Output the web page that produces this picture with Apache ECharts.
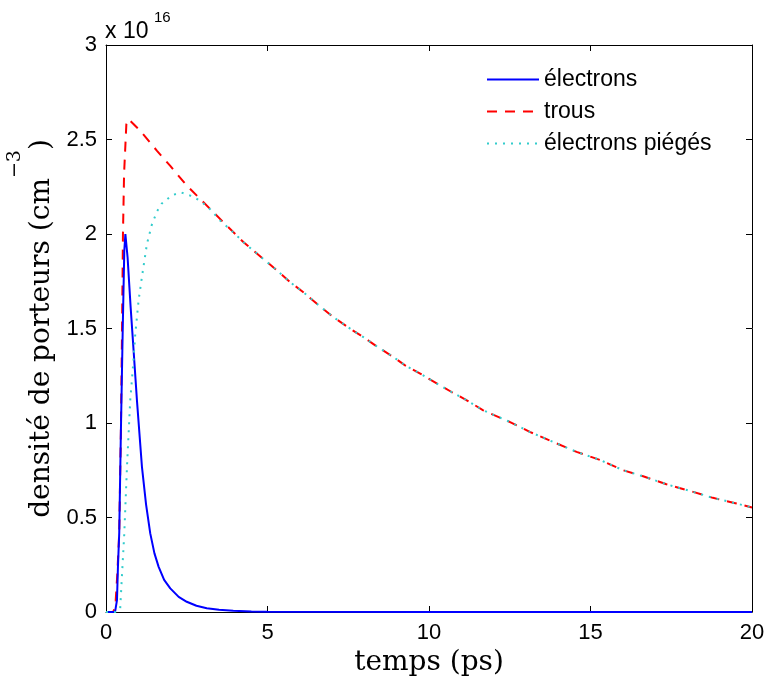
<!DOCTYPE html>
<html>
<head>
<meta charset="utf-8">
<script src="https://cdn.jsdelivr.net/npm/echarts@6/dist/echarts.min.js"></script>
<style>
  html, body { margin: 0; padding: 0; background: #fff; }
  #chart { width: 768px; height: 681px; }
</style>
</head>
<body>
<div id="chart"></div>
<script>
// Values are in units of 1e16 cm^-3, time in ps
const seriesNames = ['électrons', 'trous', 'électrons piégés'];
const xTicks = [0, 5, 10, 15, 20];
const yTicks = [0, 0.5, 1, 1.5, 2, 2.5, 3];

const electronsT = [0, 0.28, 0.31, 0.34, 0.37, 0.41, 0.46, 0.515, 0.566, 0.60, 0.668, 0.76, 0.854, 0.958, 1.113, 1.24, 1.37, 1.5, 1.63, 1.8, 1.99, 2.25, 2.5, 2.8, 3.12, 3.5, 3.94, 4.5, 5, 10, 20];
const electronsN = [0, 0, 0.01, 0.063, 0.24, 0.42, 0.945, 1.47, 1.91, 2.0, 1.877, 1.62, 1.384, 1.12, 0.768, 0.57, 0.416, 0.31, 0.239, 0.17, 0.125, 0.08, 0.054, 0.033, 0.02, 0.012, 0.007, 0.003, 0.001, 0, 0];

const trousT = [0, 0.22, 0.27, 0.30, 0.35, 0.41, 0.46, 0.495, 0.525, 0.56, 0.63, 0.70, 1.06, 1.58, 1.99, 2.5, 2.92, 3.38, 3.74, 4.26, 4.87, 5.24, 5.70, 6.11, 6.53, 7.04, 7.56, 7.97, 8.43, 8.90, 9.26, 9.77, 10.34, 10.70, 11.17, 11.68, 12.51, 13.12, 13.84, 14.57, 15.29, 16.01, 16.63, 17.35, 18.07, 18.79, 19.52, 20];
const trousN = [0, 0, 0.02, 0.06, 0.2, 0.42, 0.945, 1.47, 2.0, 2.32, 2.58, 2.608, 2.546, 2.44, 2.36, 2.256, 2.185, 2.106, 2.044, 1.956, 1.868, 1.815, 1.745, 1.692, 1.631, 1.56, 1.499, 1.454, 1.40, 1.349, 1.305, 1.257, 1.199, 1.164, 1.12, 1.067, 1.005, 0.953, 0.90, 0.847, 0.805, 0.75, 0.718, 0.676, 0.641, 0.604, 0.574, 0.553];

const piegesT = [0, 0.3, 0.38, 0.44, 0.49, 0.566, 0.65, 0.75, 0.835, 0.906, 1.01, 1.11, 1.27, 1.42, 1.58, 1.72, 2.04, 2.32, 2.61, 2.92, 3.23, 3.54, 4.0, 4.26, 4.87, 5.24, 5.70, 6.11, 6.53, 7.04, 7.56, 7.97, 8.43, 8.90, 9.26, 9.77, 10.34, 10.70, 11.17, 11.68, 12.51, 13.12, 13.84, 14.57, 15.29, 16.01, 16.63, 17.35, 18.07, 18.79, 19.52, 20];
const piegesN = [0, 0, 0.005, 0.02, 0.18, 0.416, 0.77, 1.12, 1.296, 1.47, 1.65, 1.77, 1.95, 2.05, 2.12, 2.16, 2.205, 2.22, 2.203, 2.176, 2.13, 2.07, 2.0, 1.956, 1.868, 1.815, 1.745, 1.692, 1.631, 1.56, 1.499, 1.454, 1.40, 1.349, 1.305, 1.257, 1.199, 1.164, 1.12, 1.067, 1.005, 0.953, 0.90, 0.847, 0.805, 0.75, 0.718, 0.676, 0.641, 0.604, 0.574, 0.553];

function pairs(t, v) { return t.map((x, i) => [x, v[i]]); }

const chart = echarts.init(document.getElementById('chart'), null, { renderer: 'canvas' });

const sansFont = 'Liberation Sans, Arial, sans-serif';
const serifFont = 'DejaVu Serif, Liberation Serif, serif';

const baseAxis = {
  axisLine: { show: true, onZero: false, lineStyle: { color: '#000', width: 1 } },
  axisTick: { show: true, inside: true, length: 6, lineStyle: { color: '#000' } },
  splitLine: { show: false }
};

const option = {
  backgroundColor: '#fff',
  animation: false,
  grid: { left: 106, right: 16, top: 45, bottom: 69, containLabel: false, outerBoundsMode: 'none' },
  legend: {
    orient: 'vertical',
    left: 481,
    top: 63,
    itemWidth: 52,
    itemHeight: 14,
    itemGap: 9,
    align: 'left',
    itemStyle: { opacity: 0 },
    textStyle: { fontFamily: sansFont, fontSize: 23, color: '#000' },
    data: seriesNames
  },
  xAxis: [
    Object.assign({}, baseAxis, {
      type: 'value', position: 'bottom', min: xTicks[0], max: xTicks[xTicks.length - 1], interval: 5,
      axisLabel: { show: true, color: '#000', fontFamily: sansFont, fontSize: 22, margin: 10 },
      name: 'temps (ps)', nameLocation: 'middle', nameGap: 35,
      nameTextStyle: { fontFamily: serifFont, fontSize: 28, color: '#000' }
    }),
    Object.assign({}, baseAxis, {
      type: 'value', position: 'top', min: xTicks[0], max: xTicks[xTicks.length - 1], interval: 5,
      axisLabel: { show: false }
    })
  ],
  yAxis: [
    Object.assign({}, baseAxis, {
      type: 'value', position: 'left', min: yTicks[0], max: yTicks[yTicks.length - 1], interval: 0.5,
      axisLabel: { show: true, color: '#000', fontFamily: sansFont, fontSize: 22, margin: 9 },
      name: '{n|densité de porteurs (cm}{s|−3}{n|)}', nameLocation: 'middle', nameGap: 37, nameRotate: 90,
      nameTextStyle: {
        color: '#000',
        rich: {
          n: { fontFamily: serifFont, fontSize: 28, lineHeight: 50, verticalAlign: 'bottom', color: '#000' },
          s: { fontFamily: serifFont, fontSize: 19, lineHeight: 50, verticalAlign: 'top', color: '#000' }
        }
      }
    }),
    Object.assign({}, baseAxis, {
      type: 'value', position: 'right', min: yTicks[0], max: yTicks[yTicks.length - 1], interval: 0.5,
      axisLabel: { show: false }
    })
  ],
  graphic: [
    { type: 'text', left: 105, top: 20, style: { text: 'x 10', fontFamily: sansFont, fontSize: 23, fill: '#000' } },
    { type: 'text', left: 154, top: 10, style: { text: '16', fontFamily: sansFont, fontSize: 15, fill: '#000' } }
  ],
  series: [
    {
      name: seriesNames[0], type: 'line', xAxisIndex: 0, yAxisIndex: 0,
      data: pairs(electronsT, electronsN), showSymbol: false, symbol: 'none', smooth: false,
      itemStyle: { color: '#0000ff' },
      lineStyle: { color: '#0000ff', width: 2, type: 'solid' }, z: 3
    },
    {
      name: seriesNames[1], type: 'line', xAxisIndex: 0, yAxisIndex: 0,
      data: pairs(trousT, trousN), showSymbol: false, symbol: 'none', smooth: false,
      itemStyle: { color: '#ff0000' },
      lineStyle: { color: '#ff0000', width: 2, type: [10, 8] }, z: 2
    },
    {
      name: seriesNames[2], type: 'line', xAxisIndex: 0, yAxisIndex: 0,
      data: pairs(piegesT, piegesN), showSymbol: false, symbol: 'none', smooth: false,
      itemStyle: { color: '#33cccc' },
      lineStyle: { color: '#33cccc', width: 2, type: [2, 6] }, z: 4
    }
  ]
};

chart.setOption(option);
</script>
</body>
</html>
